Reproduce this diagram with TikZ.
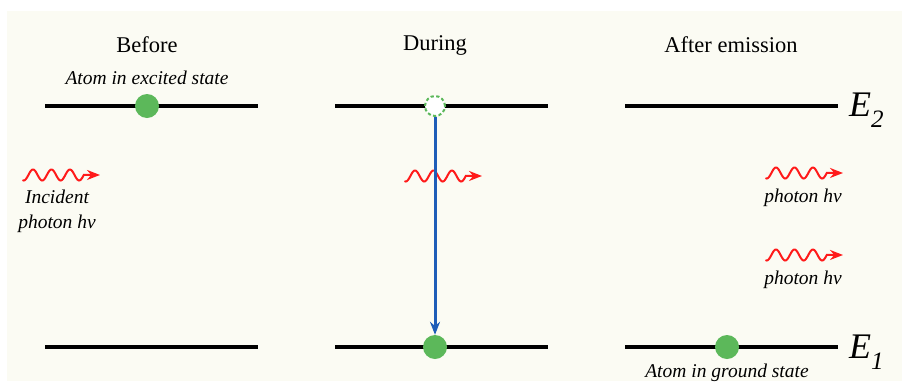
\documentclass[tikz,border=0pt]{standalone}
\usepackage{fontspec}
\setmainfont{Liberation Serif}
\usetikzlibrary{arrows.meta}
\definecolor{bgcream}{HTML}{FBFBF3}
\definecolor{dotgreen}{HTML}{5CB85A}
\definecolor{arrowblue}{HTML}{1E5DB8}
\definecolor{photonred}{HTML}{FF1A1A}
\tikzset{
  level/.style={line width=3.8pt, black},
  atom/.style={circle, fill=dotgreen, minimum size=24pt, inner sep=0pt},
  hole/.style={circle, draw=dotgreen, fill=white, line width=2pt, dash pattern=on 3.2pt off 2.4pt, minimum size=20pt, inner sep=0pt},
  trans/.style={arrowblue, line width=3pt, -{Stealth[length=13pt,width=10pt]}},
  title/.style={font=\fontsize{22.5}{26}\selectfont, inner sep=0pt},
  lab/.style={font=\fontsize{19.5}{25}\selectfont\itshape, text=black, inner sep=0pt, align=center},
  elab/.style={font=\fontsize{36}{40}\selectfont\itshape, inner sep=0pt, anchor=west},
  photon/.pic={
    \draw[photonred, line width=2pt, line cap=round, -{Stealth[length=13pt,width=10pt]}]
      plot[domain=0:60.8, samples=90, smooth] (\x, {-5.5*sin(19.5*\x-105)}) -- (77,0);
  }
}
\begin{document}
\begin{tikzpicture}[x=1pt, y=-1pt]
\useasboundingbox (0,0) rectangle (902,381);
\fill[white] (0,0) rectangle (902,381);
\fill[bgcream] (7,11) rectangle (902,381);

% titles
\node[title] (tBefore) at (147,45) {Before};
\node[title] (tDuring) at (435,45) {During};
\node[title] (tAfter) at (731,45) {After emission};

% levels
\coordinate (L2a) at (45,106);  \coordinate (L2b) at (258,106);
\coordinate (M2a) at (335,106); \coordinate (M2b) at (548,106);
\coordinate (R2a) at (625,106); \coordinate (R2b) at (838,106);
\coordinate (L1a) at (45,347);  \coordinate (L1b) at (258,347);
\coordinate (M1a) at (335,347); \coordinate (M1b) at (548,347);
\coordinate (R1a) at (625,347); \coordinate (R1b) at (838,347);
\draw[level] (L2a) -- (L2b);
\draw[level] (M2a) -- (M2b);
\draw[level] (R2a) -- (R2b);
\draw[level] (L1a) -- (L1b);
\draw[level] (M1a) -- (M1b);
\draw[level] (R1a) -- (R1b);

% photons
\pic at (23,175) {photon};
\pic at (405,176) {photon};
\pic at (766,173) {photon};
\pic at (766,255) {photon};

% atoms
\node[atom] (exc) at (147,106) {};
\node[hole] (hole) at (435,106) {};
\node[atom] (gndM) at (435,347) {};
\node[atom] (gndR) at (727,347) {};

\draw[trans] (hole.south) -- (gndM.north);

% labels
\node[lab] (lExc) at (147,78) {Atom in excited state};
\node[lab] (lInc) at (57,211) {Incident\\photon hν};
\node[lab] (lPh1) at (803,198) {photon hν};
\node[lab] (lPh2) at (803,280) {photon hν};
\node[lab] (lGnd) at (727,373) {Atom in ground state};

\node[elab] (E2) at (849,110) {E\raisebox{-0.32em}{\fontsize{25}{27}\selectfont 2}};
\node[elab] (E1) at (849,352) {E\raisebox{-0.32em}{\fontsize{25}{27}\selectfont 1}};
\end{tikzpicture}
\end{document}
